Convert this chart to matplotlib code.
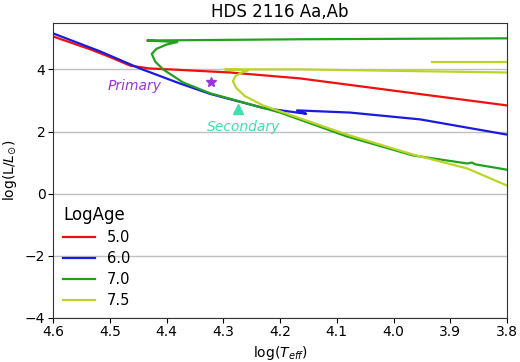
import matplotlib

matplotlib.use("Agg")
import matplotlib.pyplot as plt

# isochrones: (log Teff, log L/Lsun)
iso_50_t = [4.60, 4.535, 4.50, 4.464, 4.43, 4.394, 4.288, 4.165, 3.989, 3.80]
iso_50_l = [5.06, 4.65, 4.40, 4.12, 4.03, 4.00, 3.90, 3.71, 3.29, 2.84]

iso_60_t = [4.60, 4.517, 4.447, 4.38, 4.323, 4.23, 4.154, 4.17, 4.077, 3.953, 3.80]
iso_60_l = [5.16, 4.58, 4.03, 3.57, 3.21, 2.76, 2.57, 2.68, 2.61, 2.39, 1.90]

iso_70_t = [3.80, 3.855, 3.862, 3.87, 3.966, 4.082, 4.20, 4.323, 4.371, 4.406,
            4.420, 4.426, 4.418, 4.400, 4.381, 4.434, 4.165, 3.80]
iso_70_l = [0.77, 0.94, 1.00, 0.97, 1.23, 1.84, 2.61, 3.23, 3.58, 4.00,
            4.25, 4.50, 4.66, 4.80, 4.88, 4.93, 4.97, 5.00]

iso_75_t = [3.80, 3.87, 3.966, 4.082, 4.20, 4.23, 4.262, 4.277, 4.283, 4.279,
            4.27, 4.256, 4.297, 4.165, 3.80]
iso_75_l = [0.26, 0.81, 1.26, 1.90, 2.65, 2.84, 3.14, 3.40, 3.62, 3.78,
            3.88, 3.97, 4.00, 4.00, 3.90]
iso_75b_t = [3.932, 3.80]
iso_75b_l = [4.23, 4.23]

primary = (4.322, 3.58)
secondary = (4.274, 2.71)

fig = plt.figure(figsize=(5.2, 3.62), dpi=100)
ax = fig.add_axes([0.102, 0.122, 0.873, 0.815])

ax.plot(iso_50_t, iso_50_l, color="#f01010", lw=1.6, label="5.0")
ax.plot(iso_60_t, iso_60_l, color="#1a1ae0", lw=1.6, label="6.0")
ax.plot(iso_70_t, iso_70_l, color="#22a01e", lw=1.6, label="7.0")
ax.plot(iso_75_t, iso_75_l, color="#bcd42a", lw=1.6, label="7.5")
ax.plot(iso_75b_t, iso_75b_l, color="#bcd42a", lw=1.6)

ax.plot(*primary, marker="*", color="#9933dd", ms=7, ls="none")
ax.plot(*secondary, marker="^", color="#3ee0b0", ms=7, ls="none")
ax.text(4.503, 3.48, "Primary", color="#9933dd", style="italic", fontsize=10, va="center")
ax.text(4.329, 2.16, "Secondary", color="#3ee0b0", style="italic", fontsize=10, va="center")

ax.set_xlim(4.6, 3.8)
ax.set_ylim(-4, 5.5)
ax.set_yticks([-4, -2, 0, 2, 4])
ax.yaxis.grid(True, color="#c0c0c0", lw=1)
ax.set_axisbelow(True)
ax.tick_params(labelsize=10, pad=2)
ax.set_title("HDS 2116 Aa,Ab", fontsize=12, pad=4)
ax.set_xlabel(r"log($T_{eff}$)", fontsize=10, labelpad=3)
ax.set_ylabel(r"log(L/$L_{\odot}$)", fontsize=10)
ax.legend(title="LogAge", loc="lower left", frameon=False, fontsize=10.5,
          title_fontsize=12, borderaxespad=0.3, labelspacing=0.4,
          handlelength=2.2, alignment="left")
for s in ax.spines.values():
    s.set_color("#333333")

fig.savefig("out.png", dpi=100)
